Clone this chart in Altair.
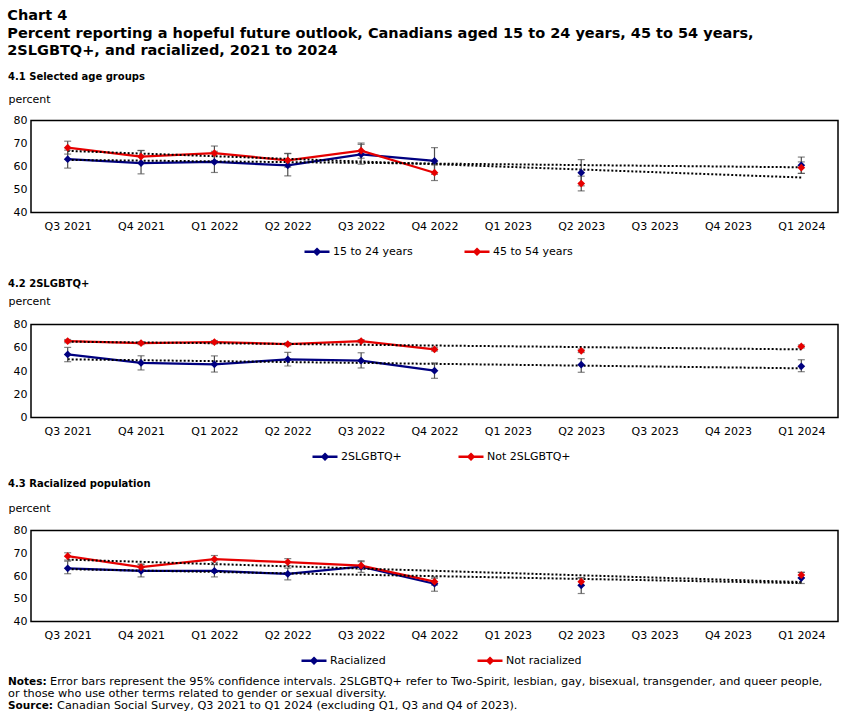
import altair as alt
import pandas as pd

quarters = ["Q3 2021", "Q4 2021", "Q1 2022", "Q2 2022", "Q3 2022", "Q4 2022",
            "Q1 2023", "Q2 2023", "Q3 2023", "Q4 2023", "Q1 2024"]
N = None

# 4.1 Selected age groups
age_15_24 = [63.2, 61.5, 62.0, 60.5, 65.3, 62.4, N, 57.3, N, N, 60.5]
age_15_24_lo = [59.3, 56.8, 57.4, 55.9, 61.0, 56.6, N, 51.6, N, N, 57.0]
age_15_24_hi = [67.1, 66.9, 66.6, 65.6, 69.6, 68.2, N, 63.0, N, N, 64.1]
age_45_54 = [68.2, 64.3, 65.8, 62.7, 66.9, 57.3, N, 52.6, N, N, 59.5]
age_45_54_lo = [65.4, 61.6, 62.6, 59.7, 63.6, 53.9, N, 49.4, N, N, 57.0]
age_45_54_hi = [71.0, 67.0, 68.9, 65.7, 70.2, 60.7, N, 55.8, N, N, 62.0]

# 4.2 2SLGBTQ+
lgbt = [54.3, 46.9, 45.7, 50.0, 48.9, 40.3, N, 45.4, N, N, 44.0]
lgbt_lo = [48.0, 40.9, 39.1, 44.3, 42.6, 33.7, N, 38.9, N, N, 39.4]
lgbt_hi = [60.3, 53.1, 53.0, 56.0, 55.7, 46.9, N, 50.6, N, N, 49.7]
not_lgbt = [65.7, 64.0, 64.9, 63.1, 65.7, 58.6, N, 57.4, N, N, 61.1]
not_lgbt_lo = [64.3, 62.7, 63.6, 61.8, 64.4, 57.2, N, 55.9, N, N, 59.8]
not_lgbt_hi = [67.1, 65.3, 66.2, 64.4, 67.0, 60.0, N, 58.9, N, N, 62.4]

# 4.3 Racialized population
rac = [63.4, 62.2, 62.2, 60.9, 64.1, 56.6, N, 55.9, N, N, 59.1]
rac_lo = [61.0, 59.6, 59.6, 58.3, 61.6, 53.3, N, 52.3, N, N, 56.7]
rac_hi = [66.5, 65.0, 65.0, 63.5, 66.7, 59.6, N, 59.2, N, N, 61.6]
not_rac = [68.7, 63.9, 67.4, 66.1, 64.6, 57.5, N, 57.5, N, N, 60.4]
not_rac_lo = [67.0, 62.5, 66.0, 64.6, 63.0, 56.0, N, 55.8, N, N, 59.3]
not_rac_hi = [70.2, 65.3, 69.0, 67.6, 66.3, 59.0, N, 59.2, N, N, 61.6]

BLUE = "#000080"
RED = "#E60000"
GREY = "#4d4d4d"
FONT = "DejaVu Sans"

title_lines = ["Chart 4",
               "Percent reporting a hopeful future outlook, Canadians aged 15 to 24 years, 45 to 54 years,",
               "2SLGBTQ+, and racialized, 2021 to 2024"]
notes_bold = ["Notes:", "Source:"]
notes_text = ["Error bars represent the 95% confidence intervals. 2SLGBTQ+ refer to Two-Spirit, lesbian, gay, bisexual, transgender, and queer people,",
              "or those who use other terms related to gender or sexual diversity.",
              "Canadian Social Survey, Q3 2021 to Q1 2024 (excluding Q1, Q3 and Q4 of 2023)."]


def frame(series_a, a, a_lo, a_hi, series_b, b, b_lo, b_hi):
    rows = []
    for name, v, lo, hi in [(series_a, a, a_lo, a_hi), (series_b, b, b_lo, b_hi)]:
        for i in range(len(quarters)):
            rows.append({"series": name, "idx": i + 1, "value": v[i], "lo": lo[i], "hi": hi[i]})
    return pd.DataFrame(rows)


label_expr = "[" + ",".join("'" + q + "'" for q in quarters) + "][datum.value - 1]"

W = 807


def panel(df, s_a, s_b, ydom, ystep, heading, height, lx, ly, colpad, ty, toff):
    xenc = alt.X("idx:Q", scale=alt.Scale(domain=[0.5, 11.5], nice=False, zero=False),
                 axis=alt.Axis(values=list(range(1, 12)), labelExpr=label_expr, title=None,
                               labelPadding=8, labelFlush=False, labelOverlap=False))
    yaxis = alt.Axis(values=list(range(ydom[0], ydom[1] + 1, ystep)), title="percent",
                     titleAngle=0, titleAlign="left", titleX=-23, titleY=ty,
                     titleBaseline="alphabetic", titleFont=FONT, titleFontSize=11,
                     titleFontWeight="normal", titleColor="black", labelPadding=4)
    yscale = alt.Scale(domain=ydom, nice=False, zero=False)
    color = alt.Color("series:N", scale=alt.Scale(domain=[s_a, s_b], range=[BLUE, RED]),
                      legend=alt.Legend(orient="none", legendX=lx, legendY=ly, direction="horizontal",
                                        title=None, symbolType="M-1,0L1,0M0,-0.2L0.2,0L0,0.2L-0.2,0Z",
                                        symbolSize=625, symbolStrokeWidth=2.5, labelFont=FONT,
                                        labelFontSize=11, labelColor="black", labelOffset=2,
                                        columnPadding=colpad))
    base = alt.Chart(df).encode(x=xenc)
    valid = base.transform_filter("isValid(datum.value)")
    trend = valid.transform_regression("idx", "value", groupby=["series"]).mark_line(
        color="black", strokeDash=[2, 2], strokeWidth=2).encode(
        y=alt.Y("value:Q", scale=yscale, axis=yaxis), detail="series:N")
    line = base.mark_line(strokeWidth=2.25).encode(
        y=alt.Y("value:Q", scale=yscale, axis=yaxis), color=color)
    rule = valid.mark_rule(color=GREY, strokeWidth=1.2).encode(
        y=alt.Y("lo:Q", scale=yscale, axis=yaxis), y2="hi:Q")
    cap_lo = valid.mark_tick(color=GREY, size=7, thickness=1.2, orient="horizontal").encode(
        y=alt.Y("lo:Q", scale=yscale, axis=yaxis))
    cap_hi = valid.mark_tick(color=GREY, size=7, thickness=1.2, orient="horizontal").encode(
        y=alt.Y("hi:Q", scale=yscale, axis=yaxis))
    pts = valid.mark_point(shape="diamond", filled=True, size=60, opacity=1).encode(
        y=alt.Y("value:Q", scale=yscale, axis=yaxis), color=color)
    return alt.layer(line, trend, rule, cap_lo, cap_hi, pts).properties(
        width=W, height=height,
        title=alt.TitleParams(heading, anchor="start", font=FONT, fontSize=10,
                              fontWeight="bold", color="black", offset=toff))


df1 = frame("15 to 24 years", age_15_24, age_15_24_lo, age_15_24_hi,
            "45 to 54 years", age_45_54, age_45_54_lo, age_45_54_hi)
df2 = frame("2SLGBTQ+", lgbt, lgbt_lo, lgbt_hi,
            "Not 2SLGBTQ+", not_lgbt, not_lgbt_lo, not_lgbt_hi)
df3 = frame("Racialized", rac, rac_lo, rac_hi,
            "Not racialized", not_rac, not_rac_lo, not_rac_hi)

p1 = panel(df1, "15 to 24 years", "45 to 54 years", [40, 80], 10, "4.1 Selected age groups",
           92, 272, 117, 46, -18, 12)
p2 = panel(df2, "2SLGBTQ+", "Not 2SLGBTQ+", [0, 80], 20, "4.2 2SLGBTQ+",
           93, 280, 118, 51, -20, 7)
p3 = panel(df3, "Racialized", "Not racialized", [40, 80], 10, "4.3 Racialized population",
           91, 269, 116, 86, -19, 14)

txt = dict(align="left", baseline="middle", font=FONT, color="black")
rows_y = alt.Y("row:Q", scale=alt.Scale(domain=[0, 2], range=[7, 31]), axis=None)
nb = pd.DataFrame({"t": notes_bold, "row": [0, 2]})
nt_a = pd.DataFrame({"t": notes_text[:1], "row": [0]})
nt_b = pd.DataFrame({"t": notes_text[1:2], "row": [1]})
nt_c = pd.DataFrame({"t": notes_text[2:], "row": [2]})
notes = alt.layer(
    alt.Chart(nb).mark_text(fontWeight="bold", fontSize=10.5, **txt).encode(x=alt.value(-23), y=rows_y, text="t"),
    alt.Chart(nt_a).mark_text(fontSize=11.3, **txt).encode(x=alt.value(19), y=rows_y, text="t"),
    alt.Chart(nt_b).mark_text(fontSize=11.3, **txt).encode(x=alt.value(-23), y=rows_y, text="t"),
    alt.Chart(nt_c).mark_text(fontSize=11.3, **txt).encode(x=alt.value(26), y=rows_y, text="t"),
).properties(width=W, height=38, view=alt.ViewBackground(stroke=None))

top = alt.vconcat(p1, p2, spacing=17).resolve_scale(color="independent", y="independent", x="independent")
mid = alt.vconcat(top, p3, spacing=12).resolve_scale(color="independent", y="independent", x="independent")
chart = alt.vconcat(mid, notes, spacing=5).resolve_scale(
    color="independent", y="independent", x="independent"
).properties(
    title=alt.TitleParams(title_lines, anchor="start", font=FONT, fontSize=14.5,
                          fontWeight="bold", color="black", lineHeight=17.5, offset=12),
    padding={"left": 7, "top": 7.5, "right": 5, "bottom": 0},
    background="white",
).configure_view(stroke="black", strokeWidth=1.5).configure_axis(
    grid=False, ticks=False, domain=False, labelFont=FONT, labelFontSize=11, labelColor="black"
)

chart.save("out.html", embed_options={"renderer": "svg", "actions": False})
